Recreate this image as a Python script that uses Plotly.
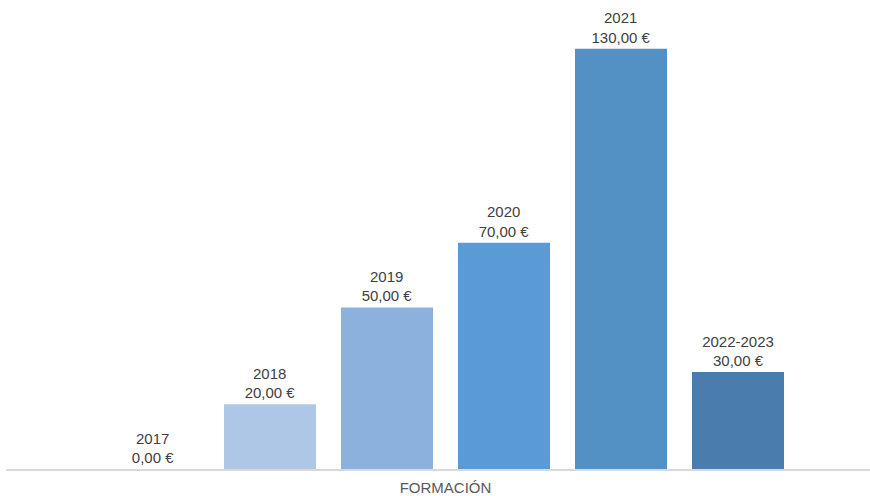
import plotly.graph_objects as go

# Training spend per period
category = ["FORMACIÓN"]
periods = ["2017", "2018", "2019", "2020", "2021", "2022-2023"]
amounts = [0, 20, 50, 70, 130, 30]
colors = ["#A5C0E4", "#AEC7E6", "#8DB1DD", "#5B9BD5", "#5390C4", "#4A7DAD"]

fig = go.Figure()
for period, amount, color in zip(periods, amounts, colors):
    fig.add_trace(go.Bar(
        name=period,
        x=category,
        y=[amount],
        marker=dict(color=color, line=dict(width=0)),
        text=[period],
        texttemplate="%{text}<br>%{y:.2f} €",
        textposition="outside",
        textfont=dict(family="Liberation Sans, Arial, sans-serif", size=15, color="#404040"),
        constraintext="none",
        cliponaxis=False,
        hoverinfo="skip",
    ))

shift = 7.5 / 864
fig.update_layout(
    width=870,
    height=496,
    barmode="group",
    bargap=0.1875,
    bargroupgap=0.2137,
    separators=",.",
    showlegend=False,
    plot_bgcolor="white",
    paper_bgcolor="white",
    margin=dict(l=6, r=0, t=0, b=26.5),
    xaxis=dict(
        range=[-0.5 - shift, 0.5 - shift],
        showline=True,
        linecolor="#D9D9D9",
        linewidth=1.5,
        showgrid=False,
        ticks="",
        ticklabelstandoff=4,
        tickfont=dict(family="Liberation Sans, Arial, sans-serif", size=15, color="#595959"),
    ),
    yaxis=dict(
        range=[0, 145.1],
        visible=False,
        showgrid=False,
        zeroline=False,
    ),
)

fig.write_html("out.html")
